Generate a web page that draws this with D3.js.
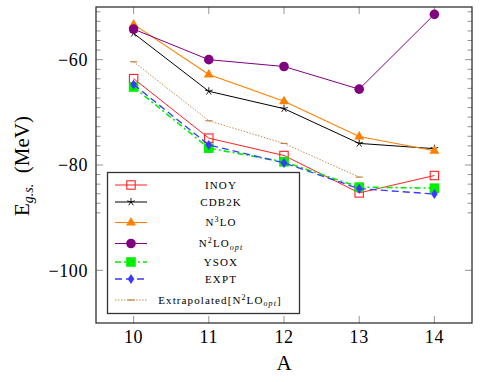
<!DOCTYPE html>
<html lang="en">
<head>
<meta charset="UTF-8">
<title>Ground state energies</title>
<script src="https://cdn.jsdelivr.net/npm/d3@7/dist/d3.min.js"></script>
<style>
    body { margin: 0; background: #fff; }
</style>
</head>
<body>
<div id="chart"></div>
<script>
    // mass numbers and energies (MeV)
    const massA = [10, 11, 12, 13, 14];
    const inoy = [-63.6, -74.9, -78.2, -85.3, -82.0];
    const cdb2k = [-55.0, -66.0, -69.3, -75.9, -76.9];
    const n3lo = [-53.3, -62.8, -67.9, -74.6, -77.3];
    const n2loOpt = [-54.2, -60.0, -61.3, -65.6, -51.4];
    const ysox = [-65.2, -76.8, -79.4, -84.2, -84.4];
    const expt = [-64.7, -76.2, -79.6, -84.5, -85.5];
    const extrap = [-60.4, -71.6, -75.9, -82.3];
    const yTicks = [-60, -80, -100];

    const width = 480, height = 382;
    const margin = { top: 7, right: 8, bottom: 59, left: 96 };
    const serif = "'Liberation Serif', 'Times New Roman', Times, 'DejaVu Serif', serif";

    const svg = d3.select("#chart").append("svg")
        .attr("width", width)
        .attr("height", height)
        .attr("font-family", serif)
        .style("font-family", serif);

    const x = d3.scaleLinear().domain([9.5, 14.5]).range([margin.left, width - margin.right]);
    const y = d3.scaleLinear().domain([-110, -50]).range([height - margin.bottom, margin.top]);

    const series = [
        { name: "INOY", values: inoy, color: "#ff2020", mark: "square", dash: null, lw: 1 },
        { name: "CDB2K", values: cdb2k, color: "#000", mark: "star", dash: null, lw: 1 },
        { name: "N3LO", values: n3lo, color: "#ff8000", mark: "triangle", dash: null, lw: 1.1 },
        { name: "N2LOopt", values: n2loOpt, color: "#800080", mark: "circle", dash: null, lw: 1 },
        { name: "YSOX", values: ysox, color: "#00f000", mark: "fsquare", dash: "6,3,2,3", lw: 1.6 },
        { name: "EXPT", values: expt, color: "#3a3aff", mark: "diamond", dash: "7,4", lw: 1.3 },
        { name: "Extrap", values: extrap, color: "#bf8040", mark: "dash", dash: "1.5,1.5", lw: 0.9 }
    ];

    // ticks (drawn inside the box, grey like the thin pgf ticks)
    const tickG = svg.append("g").attr("stroke", "#888").attr("stroke-width", 0.9);
    const minorStep = 20 / 11;
    const minors = [];
    for (let k = -16; k <= 16; k++) {
        const v = -60 + k * minorStep;
        if (v > -110 && v < -50 && k % 11 !== 0) minors.push(v);
    }
    [margin.left, width - margin.right].forEach((xx, i) => {
        const dir = i === 0 ? 1 : -1;
        tickG.selectAll(null).data(minors).enter().append("line")
            .attr("x1", xx).attr("x2", xx + dir * 4.5)
            .attr("y1", d => y(d)).attr("y2", d => y(d));
        tickG.selectAll(null).data(yTicks).enter().append("line")
            .attr("x1", xx).attr("x2", xx + dir * 7)
            .attr("y1", d => y(d)).attr("y2", d => y(d));
    });
    [height - margin.bottom, margin.top].forEach((yy, i) => {
        const dir = i === 0 ? -1 : 1;
        tickG.selectAll(null).data(massA).enter().append("line")
            .attr("x1", d => x(d)).attr("x2", d => x(d))
            .attr("y1", yy).attr("y2", yy + dir * 7);
    });

    // tick labels
    svg.append("g").selectAll("text").data(yTicks).enter().append("text")
        .attr("x", margin.left - 8)
        .attr("y", d => y(d))
        .attr("dy", "0.35em")
        .attr("text-anchor", "end")
        .attr("font-size", 18)
        .attr("letter-spacing", 0.6)
        .text(d => "\u2212" + Math.abs(d));

    svg.append("g").selectAll("text").data(massA).enter().append("text")
        .attr("x", d => x(d))
        .attr("y", height - margin.bottom + 20)
        .attr("text-anchor", "middle")
        .attr("font-size", 18)
        .attr("letter-spacing", 0.6)
        .text(d => d);

    // axis titles
    svg.append("text")
        .attr("x", x(12))
        .attr("y", 370)
        .attr("text-anchor", "middle")
        .attr("font-size", 21)
        .text("A");

    const yl = svg.append("text")
        .attr("transform", "translate(29,166) rotate(-90)")
        .attr("text-anchor", "middle")
        .attr("font-size", 21);
    yl.append("tspan").text("E");
    yl.append("tspan").attr("dy", 4).attr("font-size", 14).attr("font-style", "italic").text("g.s.");
    yl.append("tspan").attr("dy", -4).text("\u2002(MeV)");

    // markers
    function drawMark(g, type, cx, cy, color) {
        if (type === "square") {
            g.append("rect").attr("x", cx - 4.2).attr("y", cy - 4.2).attr("width", 8.4).attr("height", 8.4)
                .attr("fill", "none").attr("stroke", color).attr("stroke-width", 1.1);
        } else if (type === "fsquare") {
            g.append("rect").attr("x", cx - 4.8).attr("y", cy - 4.8).attr("width", 9.6).attr("height", 9.6)
                .attr("fill", color);
        } else if (type === "circle") {
            g.append("circle").attr("cx", cx).attr("cy", cy).attr("r", 4.8).attr("fill", color);
        } else if (type === "triangle") {
            g.append("path").attr("d", `M${cx},${cy - 5.5}L${cx + 5},${cy + 3}L${cx - 5},${cy + 3}Z`).attr("fill", color);
        } else if (type === "diamond") {
            g.append("path").attr("d", `M${cx},${cy - 5}L${cx + 3.3},${cy}L${cx},${cy + 5}L${cx - 3.3},${cy}Z`).attr("fill", color);
        } else if (type === "star") {
            let d = "";
            for (let k = 0; k < 5; k++) {
                const a = -Math.PI / 2 + k * 2 * Math.PI / 5;
                d += `M${cx},${cy}L${cx + 4 * Math.cos(a)},${cy + 4 * Math.sin(a)}`;
            }
            g.append("path").attr("d", d).attr("stroke", color).attr("stroke-width", 0.9);
        } else if (type === "dash") {
            g.append("line").attr("x1", cx - 3.5).attr("x2", cx + 3.5).attr("y1", cy).attr("y2", cy)
                .attr("stroke", color).attr("stroke-width", 1.2);
        }
    }

    const line = d3.line().x(d => x(d.a)).y(d => y(d.v));

    series.forEach(s => {
        const pts = s.values.map((v, i) => ({ a: massA[i], v: v }));
        const g = svg.append("g");
        g.append("path")
            .datum(pts)
            .attr("d", line)
            .attr("fill", "none")
            .attr("stroke", s.color)
            .attr("stroke-width", s.lw)
            .attr("stroke-dasharray", s.dash);
        pts.forEach(p => drawMark(g, s.mark, x(p.a), y(p.v), s.color));
    });

    // plot frame
    svg.append("rect")
        .attr("x", margin.left).attr("y", margin.top)
        .attr("width", width - margin.left - margin.right)
        .attr("height", height - margin.top - margin.bottom)
        .attr("fill", "none").attr("stroke", "#222").attr("stroke-width", 1.2);

    // legend
    const legend = svg.append("g");
    legend.append("rect")
        .attr("x", 107.5).attr("y", 172.5).attr("width", 192).attr("height", 141)
        .attr("fill", "#fff").attr("stroke", "#333").attr("stroke-width", 1.3);

    const rowsY = [185, 202, 222.5, 243.5, 262, 279, 300];
    series.forEach((s, i) => {
        const ry = rowsY[i];
        legend.append("line")
            .attr("x1", 115).attr("x2", 147).attr("y1", ry).attr("y2", ry)
            .attr("stroke", s.color).attr("stroke-width", s.lw)
            .attr("stroke-dasharray", s.dash);
        drawMark(legend, s.mark, 131, ry, s.color);
    });

    function legendText(i, parts, cx) {
        const t = legend.append("text")
            .attr("x", cx).attr("y", rowsY[i] + 3.8)
            .attr("text-anchor", "middle")
            .attr("font-size", 11)
            .attr("letter-spacing", 1.1);
        parts.forEach(p => {
            const ts = t.append("tspan").text(p.t);
            if (p.sup) ts.attr("dy", -4).attr("font-size", 8);
            if (p.sub) ts.attr("dy", p.dy).attr("font-size", 8).attr("font-style", "italic");
            if (p.back) ts.attr("dy", p.back);
        });
    }
    legendText(0, [{ t: "INOY" }], 221);
    legendText(1, [{ t: "CDB2K" }], 221);
    legendText(2, [{ t: "N" }, { t: "3", sup: true }, { t: "LO", back: 4 }], 221);
    legendText(3, [{ t: "N" }, { t: "2", sup: true }, { t: "LO", back: 4 }, { t: "opt", sub: true, dy: 2.5 }], 221);
    legendText(4, [{ t: "YSOX" }], 221);
    legendText(5, [{ t: "EXPT" }], 221);
    legendText(6, [{ t: "Extrapolated[N" }, { t: "2", sup: true }, { t: "LO", back: 4 }, { t: "opt", sub: true, dy: 2.5 }, { t: "]", back: -2.5 }], 220);
</script>
</body>
</html>
